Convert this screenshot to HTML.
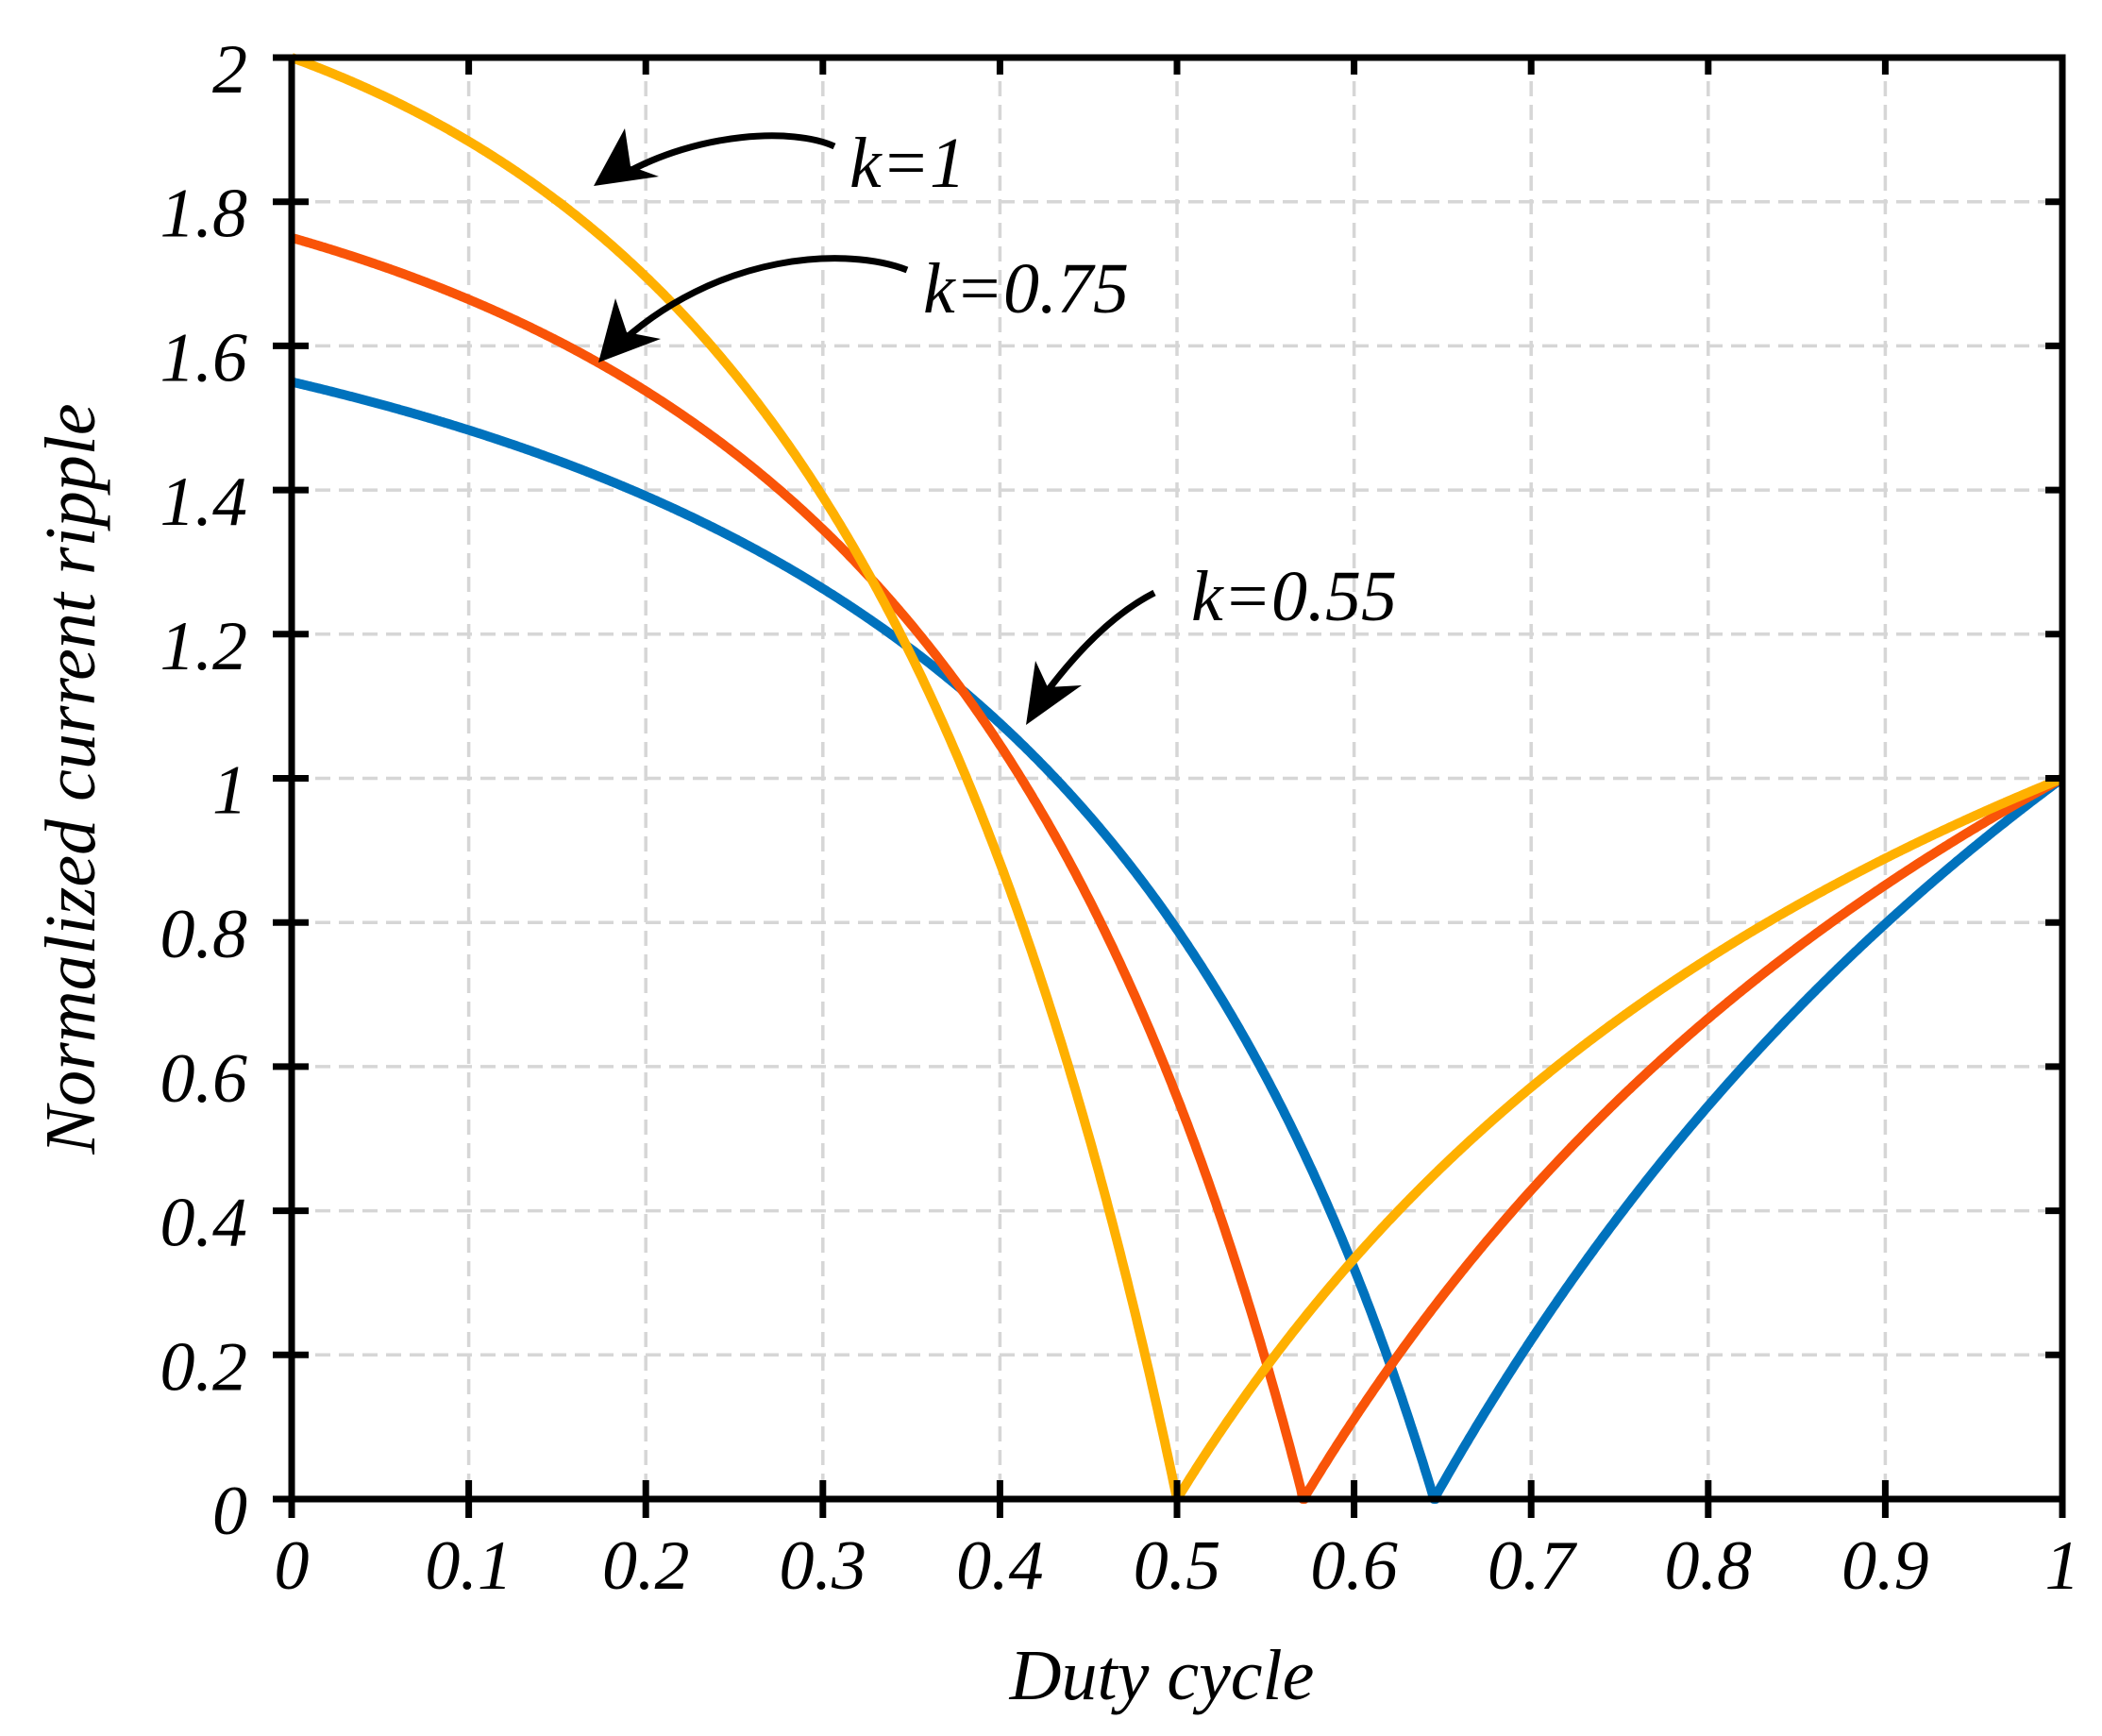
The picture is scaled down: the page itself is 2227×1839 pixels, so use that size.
<!DOCTYPE html>
<html><head><meta charset="utf-8"><style>
html,body{margin:0;padding:0;background:#fff;}
svg{display:block;}
text{font-family:"Liberation Serif",serif;font-style:italic;fill:#000;}
</style></head><body>
<svg id="s" width="2227" height="1839" viewBox="0 0 2227 1839" xmlns="http://www.w3.org/2000/svg">
<g id="grid" stroke="#d6d6d6" stroke-width="3.5" stroke-dasharray="16,9" fill="none"></g>
<g id="curves" fill="none" stroke-width="10" stroke-linejoin="round"></g>
<g id="axes" stroke="#000" stroke-width="7" fill="none"></g>
<g id="labels" font-size="74"></g>
<g fill="none" stroke="#000" stroke-width="7">
<path d="M884,155 C840,135 740,140 660,185"/>
<path d="M961,286 C900,262 760,265 650,370"/>
<path d="M1223,628 C1180,650 1140,690 1100,745"/>
</g>
<g fill="#000">
<path d="M629,197 L662,136 L668,176 L698,187 Z"/>
<path d="M634,384 L652,316 L664,352 L700,359 Z"/>
<path d="M1087,768 L1097,700 L1110,728 L1146,726 Z"/>
</g>
<g font-size="76">
<text x="900" y="198">k=1</text>
<text x="978" y="331">k=0.75</text>
<text x="1262" y="657">k=0.55</text>
<text x="1231" y="1800" text-anchor="middle">Duty cycle</text>
<text transform="translate(100,825) rotate(-90)" text-anchor="middle">Normalized current ripple</text>
</g>
</svg>
<script>
var X0=309,X1=2185,Y0=1588,Y1=61;
function px(d){return X0+(X1-X0)*d;}
function py(v){return Y0-(Y0-Y1)*v/2;}
var ns="http://www.w3.org/2000/svg";
function el(p,t,a){var e=document.createElementNS(ns,t);for(var k in a)e.setAttribute(k,a[k]);p.appendChild(e);return e;}
var grid=document.getElementById('grid'),axes=document.getElementById('axes'),lab=document.getElementById('labels');
for(var i=1;i<10;i++){var x=px(i/10);el(grid,'line',{x1:x,y1:Y1,x2:x,y2:Y0});}
for(var j=1;j<10;j++){var y=py(j*0.2);el(grid,'line',{x1:X0,y1:y,x2:X1,y2:y});}
el(axes,'rect',{x:X0,y:Y1,width:X1-X0,height:Y0-Y1});
for(var i=0;i<=10;i++){var x=px(i/10);el(axes,'line',{x1:x,y1:Y0-20,x2:x,y2:Y0+20});el(axes,'line',{x1:x,y1:Y1,x2:x,y2:Y1+18});
 var t=el(lab,'text',{x:x,y:1683,'text-anchor':'middle'});t.textContent=(i==0?'0':i==10?'1':'0.'+i);}
var yl=['0','0.2','0.4','0.6','0.8','1','1.2','1.4','1.6','1.8','2'];
for(var j=0;j<=10;j++){var y=py(j*0.2);el(axes,'line',{x1:X0-20,y1:y,x2:X0+18,y2:y});el(axes,'line',{x1:X1-18,y1:y,x2:X1,y2:y});
 var t=el(lab,'text',{x:262,y:y+37,'text-anchor':'end'});t.textContent=yl[j];}
var cur=document.getElementById('curves');
var ks=[[0.55,'#0072BD',1.18],[0.75,'#F95408',1.35],[1,'#FFB000',1.55]];
ks.forEach(function(c){var k=c[0],p=c[2],D0=1/(1+k),pts=[];
 for(var n=0;n<=1000;n++){var d=n/1000,v;
  if(d<=D0)v=(1+k)*(1-d/D0)/Math.pow(1-d,p);else v=(d*(1+k)-1)/(k*d);
  if(Math.abs(d-D0)<0.001)v=0;
  pts.push(px(d).toFixed(1)+','+py(v).toFixed(1));}
 el(cur,'polyline',{points:pts.join(' '),stroke:c[1]});});
</script>
</body></html>
